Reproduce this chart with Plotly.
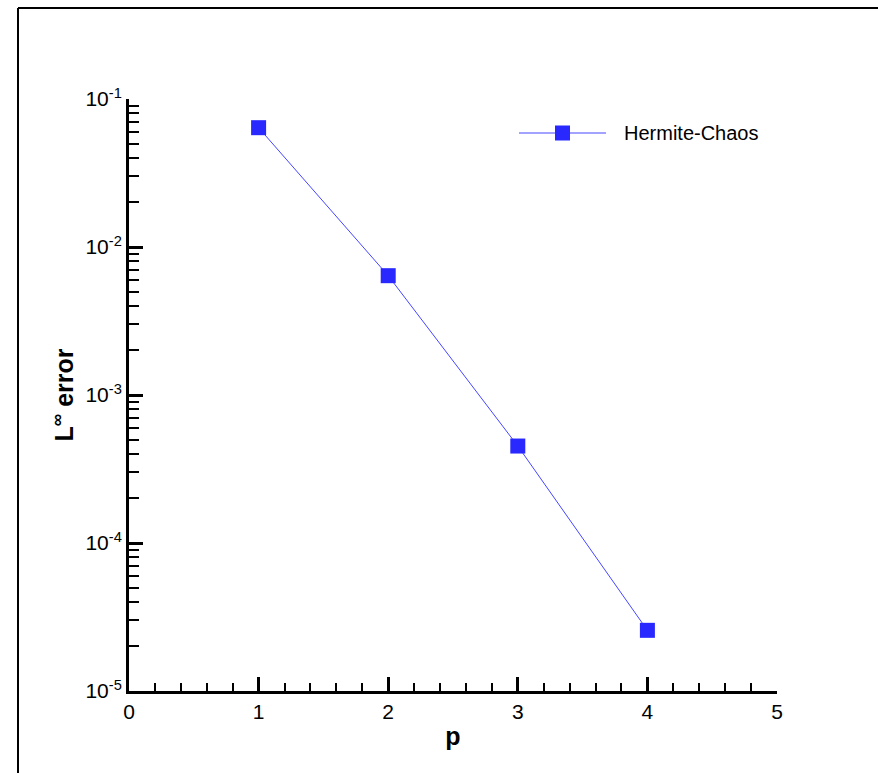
import plotly.graph_objects as go

# data
p_vals = [1, 2, 3, 4]
err_vals = [0.064, 0.0064, 0.000452, 0.0000257]
series_name = "Hermite-Chaos"
y_tick_vals = [1e-5, 1e-4, 1e-3, 1e-2, 1e-1]
y_tick_text = ["10<sup>-5</sup>", "10<sup>-4</sup>", "10<sup>-3</sup>", "10<sup>-2</sup>", "10<sup>-1</sup>"]
x_tick_vals = [0, 1, 2, 3, 4, 5]

marker_color = "rgb(40,40,255)"
line_color = "rgb(70,70,255)"
font_family = "Liberation Sans, Arial, sans-serif"

L, R, T, B = 129, 101, 99, 82
W, H = 878, 773
pw, ph = W - L - R, H - T - B

def px_x(x):
    return (x - L) / pw

def px_y(y):
    return (H - B - y) / ph

fig = go.Figure()
fig.add_trace(go.Scatter(
    x=p_vals, y=err_vals, mode="lines+markers", name=series_name,
    line=dict(color=line_color, width=1),
    marker=dict(symbol="square", size=15, color=marker_color, line=dict(width=0)),
    showlegend=False, cliponaxis=False,
))

axis_common = dict(
    showline=True, linecolor="black", linewidth=3, mirror=False,
    ticks="inside", tickcolor="black", tickwidth=3, ticklen=14,
    showgrid=False, zeroline=False,
    tickfont=dict(family=font_family, size=21, color="black"),
)

fig.update_xaxes(
    range=[0, 5], tickmode="array", tickvals=x_tick_vals,
    minor=dict(ticks="inside", dtick=0.2, ticklen=8, tickwidth=2, tickcolor="black", showgrid=False),
    title=dict(text="<b>p</b>", font=dict(family=font_family, size=25, color="black"), standoff=6),
    **axis_common,
)
fig.update_yaxes(
    type="log", range=[-5, -1], tickmode="array", tickvals=y_tick_vals, ticktext=y_tick_text,
    minor=dict(ticks="inside", dtick="D1", ticklen=10, tickwidth=2, tickcolor="black", showgrid=False),
    title=dict(text="<b>L<sup>∞</sup> error</b>", font=dict(family=font_family, size=25, color="black"), standoff=5),
    **axis_common,
)

# legend glyph drawn manually to match the long legend line
leg_y = px_y(133)
shapes = [
    dict(type="line", xref="paper", yref="paper", x0=px_x(519), x1=px_x(606), y0=leg_y, y1=leg_y,
         line=dict(color=line_color, width=1)),
    dict(type="rect", xref="paper", yref="paper", x0=px_x(555), x1=px_x(570), y0=px_y(140.5), y1=px_y(125.5),
         fillcolor=marker_color, line=dict(width=0)),
    # outer frame (left and top edges)
    dict(type="line", xref="paper", yref="paper", x0=px_x(18), x1=px_x(18), y0=px_y(8), y1=px_y(800),
         line=dict(color="black", width=2)),
    dict(type="line", xref="paper", yref="paper", x0=px_x(18), x1=px_x(900), y0=px_y(8), y1=px_y(8),
         line=dict(color="black", width=2)),
]
annotations = [
    dict(text=series_name, xref="paper", yref="paper", x=px_x(622), y=leg_y, xanchor="left", yanchor="middle",
         showarrow=False, font=dict(family=font_family, size=20, color="black")),
]

fig.update_layout(
    width=W, height=H, margin=dict(l=L, r=R, t=T, b=B, autoexpand=False),
    paper_bgcolor="white", plot_bgcolor="white",
    shapes=shapes, annotations=annotations, showlegend=False,
)

fig.write_html("out.html")
